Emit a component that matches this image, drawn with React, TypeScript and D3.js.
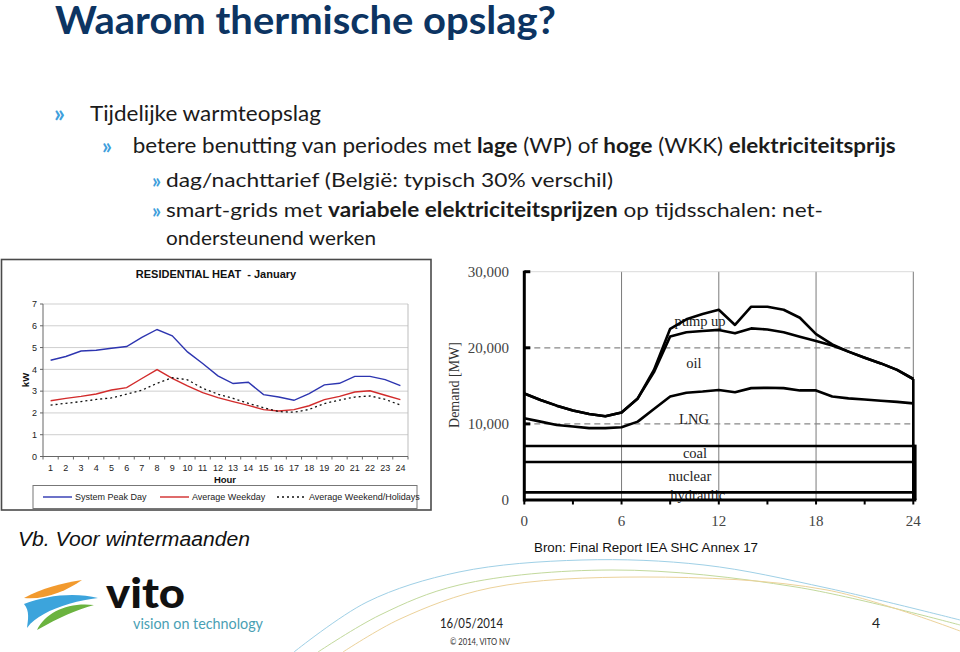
import React from "react";
import * as d3 from "d3";

// ---------- Left chart data (Residential heat - January, kW) ----------
const hours = [1, 2, 3, 4, 5, 6, 7, 8, 9, 10, 11, 12, 13, 14, 15, 16, 17, 18, 19, 20, 21, 22, 23, 24];
const peakDay = [4.42, 4.59, 4.84, 4.88, 4.97, 5.05, 5.47, 5.83, 5.54, 4.8, 4.27, 3.7, 3.35, 3.41, 2.84, 2.73, 2.58, 2.89, 3.29, 3.36, 3.68, 3.68, 3.53, 3.25];
const weekday = [2.56, 2.67, 2.76, 2.87, 3.05, 3.16, 3.58, 3.99, 3.59, 3.24, 2.93, 2.7, 2.52, 2.35, 2.15, 2.09, 2.15, 2.33, 2.61, 2.76, 2.96, 3.02, 2.81, 2.61];
const weekend = [2.36, 2.44, 2.52, 2.62, 2.69, 2.86, 3.04, 3.36, 3.62, 3.52, 3.13, 2.86, 2.67, 2.44, 2.24, 2.06, 2.03, 2.16, 2.43, 2.59, 2.73, 2.78, 2.62, 2.36];
const leftYTicks = [0, 1, 2, 3, 4, 5, 6, 7];
const legendNames = ["System Peak Day", "Average Weekday", "Average Weekend/Holidays"];

// ---------- Right chart data (Demand [MW]) ----------
const demandHours = [0, 1, 2, 3, 4, 5, 6, 7, 8, 9, 10, 11, 12, 13, 14, 15, 16, 17, 18, 19, 20, 21, 22, 23, 24];
const totalDemand = [14000, 13150, 12400, 11750, 11300, 11000, 11500, 13350, 17100, 22500, 23750, 24450, 25000, 23000, 25400, 25400, 25000, 23950, 21800, 20450, 19500, 18700, 17950, 17100, 15900];
const oilTop = [14000, 13150, 12400, 11750, 11300, 11000, 11500, 13350, 16800, 21500, 22050, 22200, 22350, 21900, 22550, 22400, 22050, 21450, 20900, 20300, 19500, 18700, 17950, 17100, 15900];
const lngTop = [10750, 10300, 9850, 9650, 9450, 9450, 9550, 10300, 11950, 13600, 14100, 14250, 14450, 14150, 14700, 14750, 14700, 14400, 14400, 13600, 13350, 13200, 13050, 12900, 12700];
const baseLevels = [7100, 5000, 1000]; // coal top, nuclear top, hydraulic top
const demandYTicks = [0, 10000, 20000, 30000];
const demandXTicks = [0, 6, 12, 18, 24];
const minorXTicks = [3, 9, 15, 21];
const sourceNames = ["pump up", "oil", "LNG", "coal", "nuclear", "hydraulic"];

const BODY = "Lato, 'Open Sans', sans-serif";
const ARIAL = "'Liberation Sans', Arial, sans-serif";
const TIMES = "'Liberation Serif', 'Times New Roman', serif";

function LeftChart() {
  const lx = d3.scalePoint<number>().domain(hours).range([43, 408]).padding(0.5);
  const ly = d3.scaleLinear().domain([0, 7]).range([456.5, 304]);
  const step = lx.step();
  const line = d3
    .line<number>()
    .x((_, i) => lx(hours[i]) as number)
    .y((d) => ly(d));
  const bounds = hours.map((h) => (lx(h) as number) - step / 2).concat([(lx(24) as number) + step / 2]);
  const colors = ["#2d35b0", "#d22b2b", "#111"];
  const series = [peakDay, weekday, weekend];
  const legendX = [43, 160, 277];
  return (
    <g>
      <rect x={1.5} y={259.5} width={429.5} height={250.5} fill="#fff" stroke="#4a4a4a" strokeWidth={1.6} />
      <text x={216} y={278} textAnchor="middle" fontFamily={ARIAL} fontWeight="bold" fontSize={11} fill="#111">
        RESIDENTIAL HEAT {"\u00a0"}- January
      </text>
      {leftYTicks.slice(1).map((t) => (
        <line key={t} x1={43} x2={408} y1={ly(t)} y2={ly(t)} stroke="#cfcfcf" strokeWidth={1} />
      ))}
      <line x1={408} x2={408} y1={ly(7)} y2={ly(0)} stroke="#bdbdbd" />
      <line x1={43} x2={43} y1={ly(7)} y2={ly(0)} stroke="#666" />
      <line x1={43} x2={408} y1={ly(0)} y2={ly(0)} stroke="#666" />
      {leftYTicks.map((t) => (
        <g key={t}>
          <line x1={40} x2={43} y1={ly(t)} y2={ly(t)} stroke="#666" />
          <text x={37} y={ly(t) + 3.2} textAnchor="end" fontFamily={ARIAL} fontSize={9} fill="#222">
            {t}
          </text>
        </g>
      ))}
      {bounds.map((b, i) => (
        <line key={i} x1={b} x2={b} y1={ly(0)} y2={ly(0) + 3} stroke="#666" />
      ))}
      {hours.map((h) => (
        <text key={h} x={lx(h)} y={471} textAnchor="middle" fontFamily={ARIAL} fontSize={9} fill="#222">
          {h}
        </text>
      ))}
      <text x={225} y={482.5} textAnchor="middle" fontFamily={ARIAL} fontWeight="bold" fontSize={9.5} fill="#111">
        Hour
      </text>
      <text transform={`translate(28.5,380) rotate(-90)`} textAnchor="middle" fontFamily={ARIAL} fontWeight="bold" fontSize={9.5} fill="#111">
        kW
      </text>
      {series.map((s, k) => (
        <path
          key={k}
          d={line(s) || ""}
          fill="none"
          stroke={colors[k]}
          strokeWidth={k === 2 ? 1.3 : 1.4}
          strokeDasharray={k === 2 ? "2,3" : undefined}
        />
      ))}
      <rect x={33} y={485.5} width={384} height={23} fill="#fff" stroke="#777" strokeWidth={1} />
      {legendNames.map((n, k) => (
        <g key={n}>
          <line
            x1={legendX[k]}
            x2={legendX[k] + 29}
            y1={497}
            y2={497}
            stroke={colors[k]}
            strokeWidth={1.4}
            strokeDasharray={k === 2 ? "2,3" : undefined}
          />
          <text x={legendX[k] + 32} y={500.3} fontFamily={ARIAL} fontSize={9} fill="#222">
            {n}
          </text>
        </g>
      ))}
    </g>
  );
}

function RightChart() {
  const rx = d3.scaleLinear().domain([0, 24]).range([524.3, 913.3]);
  const ry = d3.scaleLinear().domain([0, 30000]).range([500, 271.7]);
  const line = d3
    .line<number>()
    .x((_, i) => rx(demandHours[i]))
    .y((d) => ry(d));
  const xEnd = rx(24) + 2;
  // label anchors in data space (hour, MW)
  const labelAnchors: [number, number][] = [
    [10.84, 23550],
    [10.47, 18000],
    [10.47, 10650],
    [10.53, 6150],
    [10.22, 3100],
    [10.7, 620],
  ];
  return (
    <g>
      <rect x={440} y={256} width={490} height={272} fill="#fff" />
      {demandXTicks.slice(1).map((t) => (
        <line key={t} x1={rx(t)} x2={rx(t)} y1={ry(30000)} y2={ry(0)} stroke="#7a7a7a" strokeWidth={1} />
      ))}
      <line x1={rx(0)} x2={rx(24)} y1={ry(30000)} y2={ry(30000)} stroke="#cfcfcf" strokeWidth={0.8} />
      {[10000, 20000].map((t) => (
        <line key={t} x1={rx(0)} x2={rx(24)} y1={ry(t)} y2={ry(t)} stroke="#888" strokeWidth={1.2} strokeDasharray="6,4" />
      ))}
      {sourceNames.map((n, i) => (
        <text
          key={n}
          x={rx(labelAnchors[i][0])}
          y={ry(labelAnchors[i][1]) + 5}
          textAnchor="middle"
          fontFamily={TIMES}
          fontSize={14.5}
          fill="#222"
        >
          {n}
        </text>
      ))}
      {baseLevels.map((v) => (
        <line key={v} x1={rx(0)} x2={xEnd} y1={ry(v)} y2={ry(v)} stroke="#000" strokeWidth={2.6} />
      ))}
      <line x1={xEnd} x2={xEnd} y1={ry(baseLevels[0]) - 1.3} y2={ry(0)} stroke="#000" strokeWidth={2.6} />
      {[lngTop, oilTop, totalDemand].map((s, k) => (
        <path key={k} d={line(s) || ""} fill="none" stroke="#000" strokeWidth={2.6} strokeLinejoin="round" />
      ))}
      <line x1={rx(24)} x2={rx(24)} y1={ry(totalDemand[24])} y2={ry(0)} stroke="#000" strokeWidth={2.6} />
      <line x1={rx(0)} x2={rx(0)} y1={ry(30000) - 1} y2={ry(0) + 1.5} stroke="#000" strokeWidth={3} />
      <line x1={rx(0)} x2={xEnd + 1} y1={ry(0)} y2={ry(0)} stroke="#000" strokeWidth={3} />
      {demandYTicks.slice(1).map((t) => (
        <line key={t} x1={rx(0)} x2={rx(0) + 6} y1={ry(t)} y2={ry(t)} stroke="#000" strokeWidth={3} />
      ))}
      {minorXTicks.concat(demandXTicks).map((t) => (
        <line key={t} x1={rx(t)} x2={rx(t)} y1={ry(0)} y2={ry(0) + 4.5} stroke="#000" strokeWidth={2} />
      ))}
      {demandYTicks.map((t) => (
        <text key={t} x={509} y={ry(t) + 5} textAnchor="end" fontFamily={TIMES} fontSize={15} fill="#444">
          {d3.format(",")(t)}
        </text>
      ))}
      {demandXTicks.map((t) => (
        <text key={t} x={rx(t)} y={525.5} textAnchor="middle" fontFamily={TIMES} fontSize={15} fill="#444">
          {t}
        </text>
      ))}
      <text transform={`translate(458.5,385) rotate(-90)`} textAnchor="middle" fontFamily={TIMES} fontSize={14} fill="#333">
        Demand [MW]
      </text>
    </g>
  );
}

function Decor() {
  const curve = d3.line().curve(d3.curveCatmullRom);
  const blue: [number, number][] = [[294, 652], [367, 602], [459, 572], [582, 560], [704, 565], [827, 588], [960, 620]];
  const green: [number, number][] = [[318, 652], [380, 615], [459, 585], [612, 570], [796, 587], [960, 625]];
  const orange: [number, number][] = [[343, 652], [400, 619], [490, 588], [643, 577], [827, 590], [960, 631]];
  return (
    <g fill="none" strokeWidth={1}>
      <path d={curve(blue) || ""} stroke="#9fd0e6" />
      <path d={curve(green) || ""} stroke="#c2d99c" />
      <path d={curve(orange) || ""} stroke="#ecd29a" />
    </g>
  );
}

function Logo() {
  return (
    <g>
      <path d="M24,598 C42,588 62,583 82,580 C66,591 46,600 24,598 Z" fill="#f29a2e" />
      <path d="M24,604 C46,595 76,592 98,598 C80,600 58,606 44,614 C37,618 31,622 27,628 C28,620 30,611 24,604 Z" fill="#3ca4dc" />
      <path d="M37,630 C46,612 68,602 94,605 C76,610 60,617 37,630 Z" fill="#6bb33f" />
      <text x={106} y={608} fontFamily={BODY} fontWeight="900" fontSize={42} fill="#111" textLength={79} lengthAdjust="spacingAndGlyphs">
        vito
      </text>
      <text x={133} y={629} fontFamily={BODY} fontSize={15} fill="#4a9fb4" textLength={130} lengthAdjust="spacingAndGlyphs">
        vision on technology
      </text>
    </g>
  );
}

export default function App() {
  const bullet = "#3f9fdc";
  const txt = "#1b1b1b";
  return (
    <div style={{ position: "absolute", left: 0, top: 0 }}>
      <svg width={960} height={652} viewBox="0 0 960 652" style={{ display: "block", background: "#fff" }}>
        <rect width={960} height={652} fill="#fff" />
        <Decor />
        <text x={55} y={34} fontFamily={BODY} fontWeight="bold" fontSize={39} fill="#0c3462" textLength={501} lengthAdjust="spacingAndGlyphs">
          Waarom thermische opslag?
        </text>

        <text x={54} y={122} fontFamily={BODY} fontWeight="bold" fontSize={24} fill={bullet}>»</text>
        <text x={90} y={121} fontFamily={BODY} fontSize={22} fill={txt} textLength={231} lengthAdjust="spacingAndGlyphs">
          Tijdelijke warmteopslag
        </text>

        <text x={102} y={154} fontFamily={BODY} fontWeight="bold" fontSize={22} fill={bullet}>»</text>
        <text x={132.7} y={153} fontFamily={BODY} fontSize={20.5} fill={txt} textLength={763} lengthAdjust="spacingAndGlyphs">
          betere benutting van periodes met <tspan fontWeight="bold">lage</tspan> (WP) of <tspan fontWeight="bold">hoge</tspan> (WKK){" "}
          <tspan fontWeight="bold">elektriciteitsprijs</tspan>
        </text>

        <text x={152} y={188} fontFamily={BODY} fontWeight="bold" fontSize={20} fill={bullet}>»</text>
        <text x={166} y={187} fontFamily={BODY} fontSize={20} fill={txt} textLength={447} lengthAdjust="spacingAndGlyphs">
          dag/nachttarief (België: typisch 30% verschil)
        </text>

        <text x={152} y={218} fontFamily={BODY} fontWeight="bold" fontSize={20} fill={bullet}>»</text>
        <text x={166} y={217} fontFamily={BODY} fontSize={20} fill={txt} textLength={657} lengthAdjust="spacingAndGlyphs">
          smart-grids met <tspan fontWeight="bold">variabele elektriciteitsprijzen</tspan> op tijdsschalen: net-
        </text>
        <text x={166} y={245} fontFamily={BODY} fontSize={20} fill={txt} textLength={210} lengthAdjust="spacingAndGlyphs">
          ondersteunend werken
        </text>

        <LeftChart />
        <RightChart />

        <text x={18} y={546} fontFamily={ARIAL} fontStyle="italic" fontSize={20.5} fill="#111" textLength={232} lengthAdjust="spacingAndGlyphs">
          Vb. Voor wintermaanden
        </text>
        <text x={534} y={552} fontFamily={ARIAL} fontSize={12.5} fill="#111" textLength={224} lengthAdjust="spacingAndGlyphs">
          Bron: Final Report IEA SHC Annex 17
        </text>

        <Logo />

        <text x={440} y={628} fontFamily={BODY} fontSize={14} fill="#222" textLength={63} lengthAdjust="spacingAndGlyphs">
          16/05/2014
        </text>
        <text x={450} y={645} fontFamily={BODY} fontSize={9} fill="#333" textLength={60} lengthAdjust="spacingAndGlyphs">
          © 2014, VITO NV
        </text>
        <text x={872} y={628} fontFamily={BODY} fontSize={14} fill="#222">
          4
        </text>
      </svg>
    </div>
  );
}
